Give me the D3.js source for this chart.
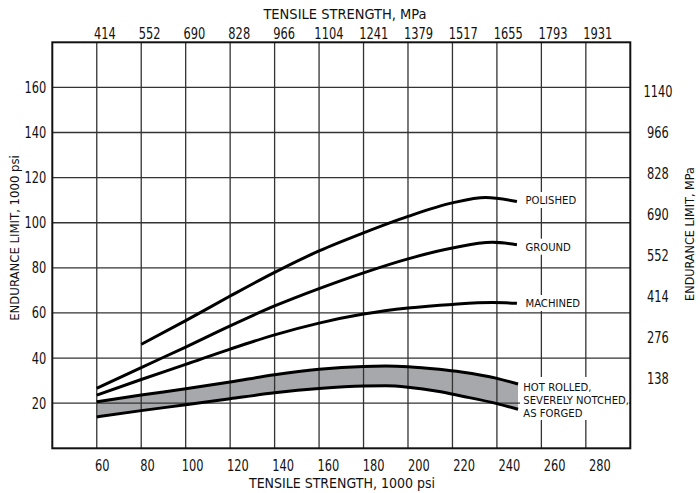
<!DOCTYPE html>
<html>
<head>
<meta charset="utf-8">
<script src="https://cdn.jsdelivr.net/npm/d3@7"></script>
<style>
  body { margin: 0; background: #fff; }
  svg text { font-family: "Liberation Sans Narrow", "DejaVu Sans Condensed", sans-serif; fill: #111; }
</style>
</head>
<body>
<svg id="chart" width="700" height="493"></svg>
<script>
// tick labels
const psiX = [60, 80, 100, 120, 140, 160, 180, 200, 220, 240, 260, 280];
const psiY = [20, 40, 60, 80, 100, 120, 140, 160];
const mpaTop = ["414", "552", "690", "828", "966", "1104", "1241", "1379", "1517", "1655", "1793", "1931"];
const mpaRight = ["138", "276", "414", "552", "690", "828", "966", "1140"];

// curves: tensile strength (ksi) -> endurance limit (ksi)
const polished = [[80, 46.1], [100, 56.6], [120, 67.5], [140, 78], [160, 87.5], [180, 95.5], [200, 102.8], [220, 108.8], [235, 111.2], [249, 109.4]];
const ground = [[60, 26.6], [80, 35.8], [100, 44.9], [120, 54.3], [140, 63.1], [160, 70.8], [180, 77.8], [200, 84], [220, 88.8], [238, 91.3], [249, 90.2]];
const machined = [[60, 23.6], [80, 30.5], [100, 37.2], [120, 44], [140, 50.3], [160, 55.5], [180, 59.5], [200, 62.2], [220, 63.8], [238, 64.6], [249, 64.3]];
const hotRolled = [[60, 20.6], [80, 23.6], [100, 26.4], [120, 29.4], [140, 32.6], [160, 35], [180, 36.3], [190, 36.5], [200, 36.2], [214, 35], [224, 33.8], [240, 31], [249.5, 28.5]];
const notched = [[60, 13.9], [80, 16.7], [100, 19.3], [120, 22], [140, 24.6], [160, 26.5], [180, 27.6], [190, 27.7], [200, 27.1], [214, 25.2], [224, 23.2], [240, 19.8], [249.5, 17.3]];

const curveLabels = ["POLISHED", "GROUND", "MACHINED"];
const bandLabel = ["HOT ROLLED,", "SEVERELY NOTCHED,", "AS FORGED"];

const svg = d3.select("#chart");

const x = d3.scaleLinear().domain([40, 300]).range([52.3, 630.3]);
const y = d3.scaleLinear().domain([0, 180]).range([448.3, 42.3]);

// printed labels in the original sit a little off the grid
const xLab = d3.scaleLinear().domain([60, 280]).range([101.7, 599.3]);
const topLab = d3.scalePoint().domain(mpaTop).range([104.3, 597.3]);
const rightLab = d3.scalePoint().domain(mpaRight).range([378.3, 91.7]);

const line = d3.line()
    .x(d => x(d[0]))
    .y(d => y(d[1]))
    .curve(d3.curveMonotoneX);

// shaded band
const bandData = hotRolled.map((d, i) => [d[0], d[1], notched[i][1]]);
svg.append("path")
    .datum(bandData)
    .attr("fill", "#a7a8ab")
    .attr("d", d3.area()
        .x(d => x(d[0]))
        .y0(d => y(d[2]))
        .y1(d => y(d[1]))
        .curve(d3.curveMonotoneX));

// grid
svg.append("g")
    .selectAll("line")
    .data(psiX)
    .join("line")
    .attr("x1", d => x(d)).attr("x2", d => x(d))
    .attr("y1", y(180)).attr("y2", y(0))
    .attr("stroke", "#333")
    .attr("stroke-width", 1.3);

svg.append("g")
    .selectAll("line")
    .data(psiY)
    .join("line")
    .attr("x1", x(40)).attr("x2", x(300))
    .attr("y1", d => y(d)).attr("y2", d => y(d))
    .attr("stroke", "#333")
    .attr("stroke-width", 1.3);

// white backing behind labels
const labelX = 525.5;
const labelY = [200, 246.7, 303];
svg.append("g")
    .selectAll("rect")
    .data(curveLabels)
    .join("rect")
    .attr("x", labelX - 3)
    .attr("y", (d, i) => labelY[i] - 8)
    .attr("width", (d) => d.length * 6.4 + 4)
    .attr("height", 16)
    .attr("fill", "#fff");

svg.append("rect")
    .attr("x", 520).attr("y", 377)
    .attr("width", 109).attr("height", 43)
    .attr("fill", "#fff");

// frame
svg.append("rect")
    .attr("x", x(40)).attr("y", y(180))
    .attr("width", x(300) - x(40)).attr("height", y(0) - y(180))
    .attr("fill", "none")
    .attr("stroke", "#111")
    .attr("stroke-width", 2);

// curves
[polished, ground, machined, hotRolled, notched].forEach(s => {
    svg.append("path")
        .datum(s)
        .attr("fill", "none")
        .attr("stroke", "#000")
        .attr("stroke-width", 3)
        .attr("d", line);
});

// axes (digits squeezed horizontally to look like the condensed original)
const fs = "15.5px";
const squeeze = 0.82;

const leftAxis = svg.append("g")
    .attr("transform", "translate(" + x(40) + ",0)")
    .call(d3.axisLeft(y).tickValues(psiY).tickSize(0).tickPadding(6));
leftAxis.selectAll("text").attr("x", -6 / squeeze);

const bottomAxis = svg.append("g")
    .attr("transform", "translate(0," + y(0) + ")")
    .call(d3.axisBottom(xLab).tickValues(psiX).tickSize(0).tickPadding(11.5));

const topAxis = svg.append("g")
    .attr("transform", "translate(0," + y(180) + ")")
    .call(d3.axisTop(topLab).tickSize(0).tickPadding(3.5));

const rightAxis = svg.append("g")
    .attr("transform", "translate(" + x(300) + ",0)")
    .call(d3.axisRight(rightLab).tickSize(0).tickPadding(0));
rightAxis.selectAll("text").attr("x", 27.7 / squeeze).attr("text-anchor", "middle");

[leftAxis, bottomAxis, topAxis, rightAxis].forEach(g => {
    g.select(".domain").remove();
    g.selectAll("text")
        .attr("font-size", fs)
        .attr("fill", "#111")
        .attr("transform", "scale(" + squeeze + ",1)");
    g.attr("font-family", null).attr("font-size", null);
});

// axis titles
svg.append("text")
    .attr("x", 345).attr("y", 18.5)
    .attr("text-anchor", "middle")
    .attr("font-size", "14.5px")
    .text("TENSILE STRENGTH, MPa");

svg.append("text")
    .attr("x", 342).attr("y", 488)
    .attr("text-anchor", "middle")
    .attr("font-size", "14px")
    .text("TENSILE STRENGTH, 1000 psi");

svg.append("text")
    .attr("transform", "translate(19,238) rotate(-90)")
    .attr("text-anchor", "middle")
    .attr("font-size", "13px")
    .text("ENDURANCE LIMIT, 1000 psi");

svg.append("text")
    .attr("transform", "translate(693.5,234) rotate(-90)")
    .attr("text-anchor", "middle")
    .attr("font-size", "12.5px")
    .text("ENDURANCE LIMIT, MPa");

// curve labels
svg.append("g")
    .selectAll("text")
    .data(curveLabels)
    .join("text")
    .attr("x", labelX)
    .attr("y", (d, i) => labelY[i])
    .attr("dy", "0.35em")
    .attr("font-size", "11.2px")
    .text(d => d);

svg.append("g")
    .selectAll("text")
    .data(bandLabel)
    .join("text")
    .attr("x", 523.3)
    .attr("y", (d, i) => 386.7 + i * 13)
    .attr("dy", "0.35em")
    .attr("font-size", "11.2px")
    .text(d => d);
</script>
</body>
</html>
